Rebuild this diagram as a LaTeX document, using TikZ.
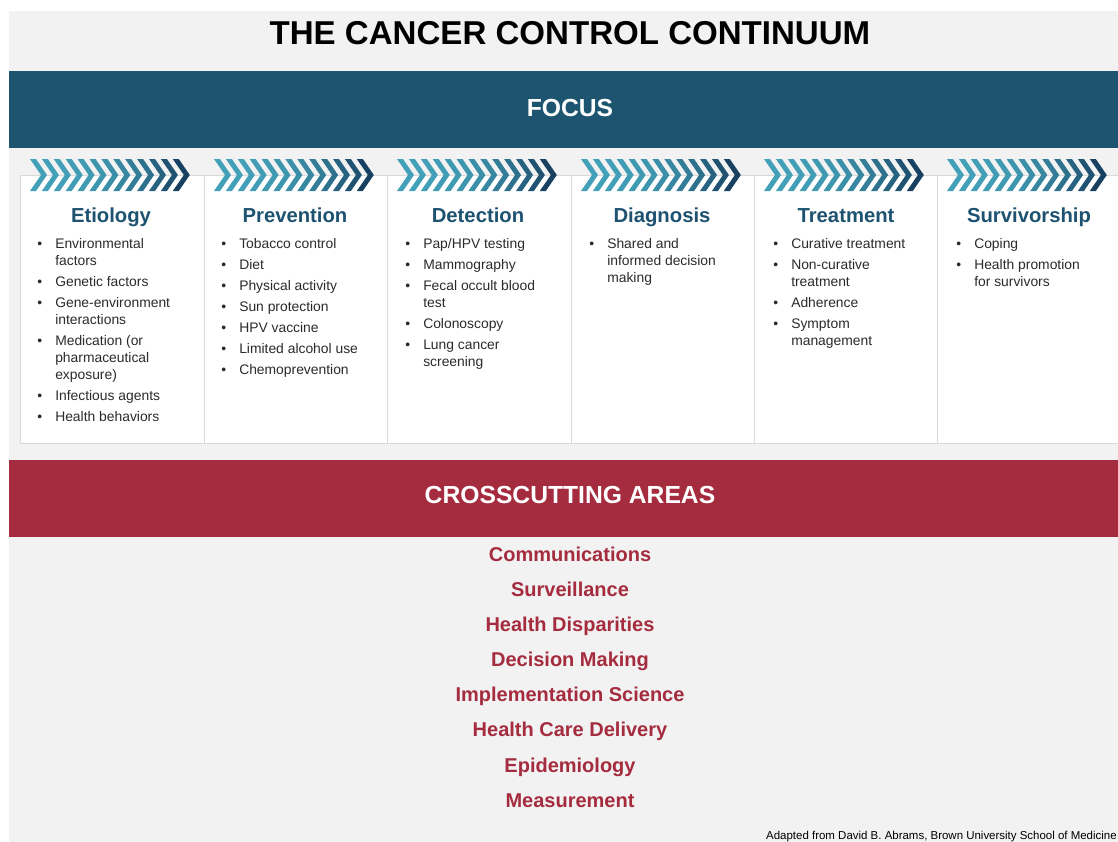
\documentclass[tikz,border=0pt]{standalone}
\usepackage{fontspec}
\setmainfont{Liberation Sans}
\usepackage{array}
\definecolor{bgray}{HTML}{F2F2F2}
\definecolor{focusblue}{HTML}{1D5570}
\definecolor{crossred}{HTML}{A52B3E}
\definecolor{headblue}{HTML}{1D5270}
\definecolor{chevL}{RGB}{66,160,184}
\definecolor{chevD}{RGB}{24,64,96}
\definecolor{cardline}{HTML}{D9D9D9}
\definecolor{bodytext}{HTML}{2B2B2B}
\begin{document}
\begin{tikzpicture}[x=0.75pt,y=-0.75pt,
  band/.style={draw=none, anchor=north west, minimum width=831.75pt, minimum height=57.75pt, inner sep=0},
  bandtext/.style={inner sep=0, text=white, font=\bfseries\fontsize{18.5pt}{22pt}\selectfont},
  card/.style={draw=cardline, fill=white, line width=0.6pt, minimum width=138pt, minimum height=201pt, anchor=north west, inner sep=0},
  heading/.style={anchor=base, text=headblue, font=\bfseries\fontsize{15.2pt}{18pt}\selectfont, inner sep=0},
  itemlist/.style={anchor=north west, inner sep=0, text=bodytext, font=\fontsize{10.4pt}{12.75pt}\selectfont},
  cross/.style={anchor=base, text=crossred, font=\bfseries\fontsize{15pt}{18pt}\selectfont, inner sep=0}]
\clip (0,0) rectangle (1118,842);
\fill[white] (0,0) rectangle (1118,842);
\fill[bgray] (9,11) rectangle (1118,842);

\node[anchor=base, inner sep=0, font=\bfseries\fontsize{24.8pt}{30pt}\selectfont] (title) at (570,45) {THE CANCER CONTROL CONTINUUM};

\node[band, fill=focusblue] (focus) at (9,71) {};
\node[bandtext] (focuslabel) at (570,108) {FOCUS};

% cards
\node[card] (c1) at (20,175) {};
\node[card] (c2) at (204,175) {};
\node[card] (c3) at (387,175) {};
\node[card] (c4) at (571,175) {};
\node[card] (c5) at (754,175) {};
\node[card] (c6) at (937,175) {};

% chevrons
\foreach \L in {20,204,387,571,754,937} {
  \foreach \i in {0,...,12} {
    \pgfmathsetmacro\p{100*(\i/12)^2.5}
    \pgfmathsetmacro\xa{\L+10+11.9*\i}
    \fill[chevD!\p!chevL] (\xa,159) -- ++(6,0) -- ++(11,16) -- ++(-11,16) -- ++(-6,0) -- ++(11,-16) -- cycle;
  }
}

% headings
\node[heading] (h1) at (111,222) {Etiology};
\node[heading] (h2) at (295,222) {Prevention};
\node[heading] (h3) at (478,222) {Detection};
\node[heading] (h4) at (662,222) {Diagnosis};
\node[heading] (h5) at (846,222) {Treatment};
\node[heading] (h6) at (1029,222) {Survivorship};

% lists
\node[itemlist] (l1) at (37,236) {\begin{tabular}{@{}p{13.5pt}@{}l@{}}
• & Environmental\\ & factors\\[3pt]
• & Genetic factors\\[3pt]
• & Gene-environment\\ & interactions\\[3pt]
• & Medication (or\\ & pharmaceutical\\ & exposure)\\[3pt]
• & Infectious agents\\[3pt]
• & Health behaviors
\end{tabular}};
\node[itemlist] (l2) at (221,236) {\begin{tabular}{@{}p{13.5pt}@{}l@{}}
• & Tobacco control\\[3pt]
• & Diet\\[3pt]
• & Physical activity\\[3pt]
• & Sun protection\\[3pt]
• & HPV vaccine\\[3pt]
• & Limited alcohol use\\[3pt]
• & Chemoprevention
\end{tabular}};
\node[itemlist] (l3) at (405,236) {\begin{tabular}{@{}p{13.5pt}@{}l@{}}
• & Pap/HPV testing\\[3pt]
• & Mammography\\[3pt]
• & Fecal occult blood\\ & test\\[3pt]
• & Colonoscopy\\[3pt]
• & Lung cancer\\ & screening
\end{tabular}};
\node[itemlist] (l4) at (589,236) {\begin{tabular}{@{}p{13.5pt}@{}l@{}}
• & Shared and\\ & informed decision\\ & making
\end{tabular}};
\node[itemlist] (l5) at (773,236) {\begin{tabular}{@{}p{13.5pt}@{}l@{}}
• & Curative treatment\\[3pt]
• & Non-curative\\ & treatment\\[3pt]
• & Adherence\\[3pt]
• & Symptom\\ & management
\end{tabular}};
\node[itemlist] (l6) at (956,236) {\begin{tabular}{@{}p{13.5pt}@{}l@{}}
• & Coping\\[3pt]
• & Health promotion\\ & for survivors
\end{tabular}};

\node[band, fill=crossred] (crossband) at (9,460) {};
\node[bandtext] (crosslabel) at (570,495) {CROSSCUTTING AREAS};

\node[cross] (x1) at (570,561) {Communications};
\node[cross] (x2) at (570,596) {Surveillance};
\node[cross] (x3) at (570,631) {Health Disparities};
\node[cross] (x4) at (570,666) {Decision Making};
\node[cross] (x5) at (570,701) {Implementation Science};
\node[cross] (x6) at (570,736) {Health Care Delivery};
\node[cross] (x7) at (570,772) {Epidemiology};
\node[cross] (x8) at (570,807) {Measurement};

\node[anchor=base east, inner sep=0, text=black, font=\fontsize{8.6pt}{10pt}\selectfont] (credit) at (1117,839) {Adapted from David B. Abrams, Brown University School of Medicine};
\end{tikzpicture}
\end{document}
